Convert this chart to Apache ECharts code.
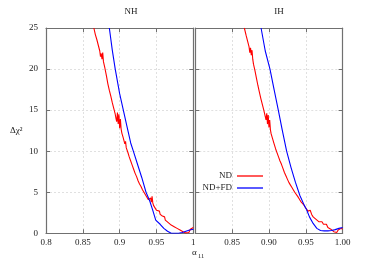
<!DOCTYPE html>
<html>
<head>
<meta charset="utf-8">
<script src="https://cdn.jsdelivr.net/npm/echarts@6/dist/echarts.min.js"></script>
<style>html,body{margin:0;padding:0;background:#fff}#c{width:374px;height:262px}</style>
</head>
<body>
<div id="c"></div>
<script>
// ---- data ----
const panelTitles = ['NH', 'IH'];
const seriesNames = ['ND', 'ND+FD'];
const yTicks = [0, 5, 10, 15, 20, 25];

// NH, ND (red)
const nhND_a = [0.865,0.867,0.869,0.871,0.873,0.874,0.875,0.876,0.877,0.878,0.879,0.880,0.882,0.884,0.886,0.888,0.890,0.892,0.894,0.895,0.896,0.897,0.898,0.899,0.900,0.901,0.902,0.903,0.905,0.907,0.908,0.909,0.911,0.913,0.914,0.915,0.917,0.919,0.920,0.921,0.923,0.925,0.926,0.927,0.929,0.931,0.933,0.935,0.937,0.939,0.941,0.942,0.943,0.944,0.945,0.946,0.948,0.950,0.951,0.952,0.954,0.955,0.957,0.958,0.960,0.961,0.962,0.964,0.966,0.968,0.970,0.972,0.974,0.976,0.978,0.980,0.982,0.984,0.986,0.988,0.990,0.992,0.994,0.996,0.998,1.000];
const nhND_c = [25,24.2,23.6,22.9,22.2,21.5,21.9,21.2,22.0,20.9,21.1,20.1,19.2,18.2,17.4,16.7,15.9,15.2,14.5,14.0,13.6,14.7,13.3,14.5,12.8,13.9,12.7,12.2,11.6,10.9,11.2,10.4,9.9,9.3,9.5,8.8,8.3,7.8,7.9,7.3,6.9,6.4,6.5,6.0,5.7,5.3,5.0,4.7,4.4,4.1,3.9,4.3,3.8,4.5,3.7,3.4,3.1,2.8,3.0,2.6,2.7,2.3,2.5,2.1,1.9,2.0,1.6,1.7,1.3,1.4,1.0,1.1,0.8,0.9,0.6,0.75,0.4,0.55,0.2,0.3,0.05,0.2,0.1,0.5,0.3,0.7];

// NH, ND+FD (blue)
const nhFD_a = [0.886,0.890,0.894,0.900,0.905,0.910,0.915,0.9186,0.925,0.930,0.9358,0.941,0.945,0.949,0.955,0.960,0.965,0.970,0.975,0.980,0.985,0.990,0.995,1.000];
const nhFD_c = [25,22.3,20,17.0,15,13.0,11.0,10,8.2,6.8,5,3.9,2.8,1.6,1.1,0.6,0.25,0,0,0,0.1,0.25,0.4,0.5];

// IH, ND (red)
const ihND_a = [0.8666,0.869,0.871,0.873,0.874,0.875,0.876,0.877,0.878,0.879,0.881,0.883,0.885,0.887,0.889,0.891,0.893,0.895,0.896,0.897,0.898,0.899,0.900,0.901,0.902,0.903,0.905,0.907,0.908,0.909,0.911,0.913,0.914,0.915,0.917,0.919,0.920,0.921,0.923,0.925,0.927,0.929,0.931,0.933,0.935,0.937,0.939,0.941,0.943,0.945,0.947,0.949,0.951,0.953,0.955,0.956,0.958,0.960,0.962,0.964,0.966,0.968,0.970,0.972,0.974,0.976,0.978,0.980,0.982,0.984,0.986,0.988,0.990,0.992,0.994,0.996,0.998,1.000];
const ihND_c = [25,24.1,23.4,22.7,22.0,22.6,21.7,22.3,21.2,20.6,19.8,18.9,18.0,17.2,16.4,15.7,15.0,14.2,13.8,14.6,13.3,14.4,12.9,13.8,12.6,12.1,11.5,10.9,11.1,10.3,9.8,9.3,9.5,8.8,8.4,7.9,8.0,7.4,7.0,6.6,6.2,5.9,5.6,5.3,5.0,4.8,4.5,4.2,3.9,3.7,3.5,3.2,3.0,2.7,2.5,2.8,2.3,2.0,2.1,1.7,1.8,1.4,1.3,1.4,1.1,1.0,1.1,0.7,0.8,0.5,0.6,0.2,0.3,0.1,0.4,0.2,0.6,0.5];

// IH, ND+FD (blue)
const ihFD_a = [0.8893,0.895,0.9014,0.907,0.9127,0.918,0.924,0.930,0.936,0.942,0.948,0.951,0.955,0.960,0.965,0.970,0.975,0.980,0.985,0.990,0.995,1.000];
const ihFD_c = [25,22.2,20,17.5,15,12.6,10,8.0,6.2,4.6,3.4,2.9,2.0,1.2,0.6,0.35,0.3,0.3,0.35,0.45,0.6,0.7];

// ---- chart ----
const FONT = 'Liberation Serif';
const frame = '#707070';
const zip = (a, c) => a.map((v, i) => [v, c[i]]);

function xAx(gi, pos, fmt) {
  return {
    type: 'value', gridIndex: gi, position: pos, min: 0.8, max: 1.0, interval: 0.05,
    axisLine: { show: true, onZero: false, lineStyle: { color: frame, width: 1.2 } },
    axisTick: { show: true, inside: true, length: 4, lineStyle: { color: frame } },
    axisLabel: { show: pos === 'bottom', margin: 5, fontFamily: FONT, fontSize: 9, color: '#222', formatter: fmt },
    splitLine: { show: pos === 'bottom', lineStyle: { color: '#d8d8d8', type: [2, 2], width: 0.8 } }
  };
}
function yAx(gi, pos, showLabel) {
  return {
    type: 'value', gridIndex: gi, position: pos, min: 0, max: 25, interval: 5,
    axisLine: { show: true, onZero: false, lineStyle: { color: frame, width: 1.2 } },
    axisTick: { show: true, inside: true, length: 4, lineStyle: { color: frame } },
    axisLabel: { show: showLabel, margin: 8, fontFamily: FONT, fontSize: 9, color: '#222' },
    splitLine: { show: pos === 'left', lineStyle: { color: '#d8d8d8', type: [2, 2], width: 0.8 } }
  };
}
const fmtL = v => String(+v.toFixed(2));
const fmtR = v => (v < 0.81 ? '' : v.toFixed(2));

function line(name, xi, yi, data, color) {
  return {
    type: 'line', name, xAxisIndex: xi, yAxisIndex: yi, data,
    showSymbol: false, symbol: 'none', animation: false, clip: true,
    lineStyle: { color, width: 1.1 }, itemStyle: { color }
  };
}

const chart = echarts.init(document.getElementById('c'), null, { renderer: 'canvas' });
chart.setOption({
  animation: false,
  backgroundColor: '#fff',
  title: [
    { text: panelTitles[0], left: 126, top: 2, textAlign: 'center', textStyle: { fontFamily: FONT, fontSize: 9, fontWeight: 'normal', color: '#222' } },
    { text: panelTitles[1], left: 274, top: 2, textAlign: 'center', textStyle: { fontFamily: FONT, fontSize: 9, fontWeight: 'normal', color: '#222' } }
  ],
  grid: [
    { left: 46, top: 28, width: 147.3, height: 205.3 },
    { left: 195.3, top: 28, width: 147.3, height: 205.3 }
  ],
  xAxis: [xAx(0, 'bottom', fmtL), xAx(0, 'top'), xAx(1, 'bottom', fmtR), xAx(1, 'top')],
  yAxis: [yAx(0, 'left', true), yAx(0, 'right', false), yAx(1, 'left', false), yAx(1, 'right', false)],
  legend: {
    orient: 'vertical', align: 'right', right: 106, top: 166,
    icon: 'rect', itemWidth: 26, itemHeight: 1.3, itemGap: 2,
    textStyle: { fontFamily: FONT, fontSize: 9, color: '#222', lineHeight: 10 },
    data: seriesNames
  },
  graphic: [
    { type: 'text', left: 10, top: 126, style: { text: 'Δχ²', font: '9px "Liberation Serif"', fill: '#222' } },
    { type: 'text', left: 192, top: 248, style: { text: 'α', font: '9px "Liberation Serif"', fill: '#222' } },
    { type: 'text', left: 198, top: 253, style: { text: '11', font: '6.5px "Liberation Serif"', fill: '#222' } }
  ],
  series: [
    line(seriesNames[0], 0, 0, zip(nhND_a, nhND_c), '#ff0000'),
    line(seriesNames[1], 0, 0, zip(nhFD_a, nhFD_c), '#0000ff'),
    line(seriesNames[0], 2, 2, zip(ihND_a, ihND_c), '#ff0000'),
    line(seriesNames[1], 2, 2, zip(ihFD_a, ihFD_c), '#0000ff')
  ]
});
</script>
</body>
</html>
